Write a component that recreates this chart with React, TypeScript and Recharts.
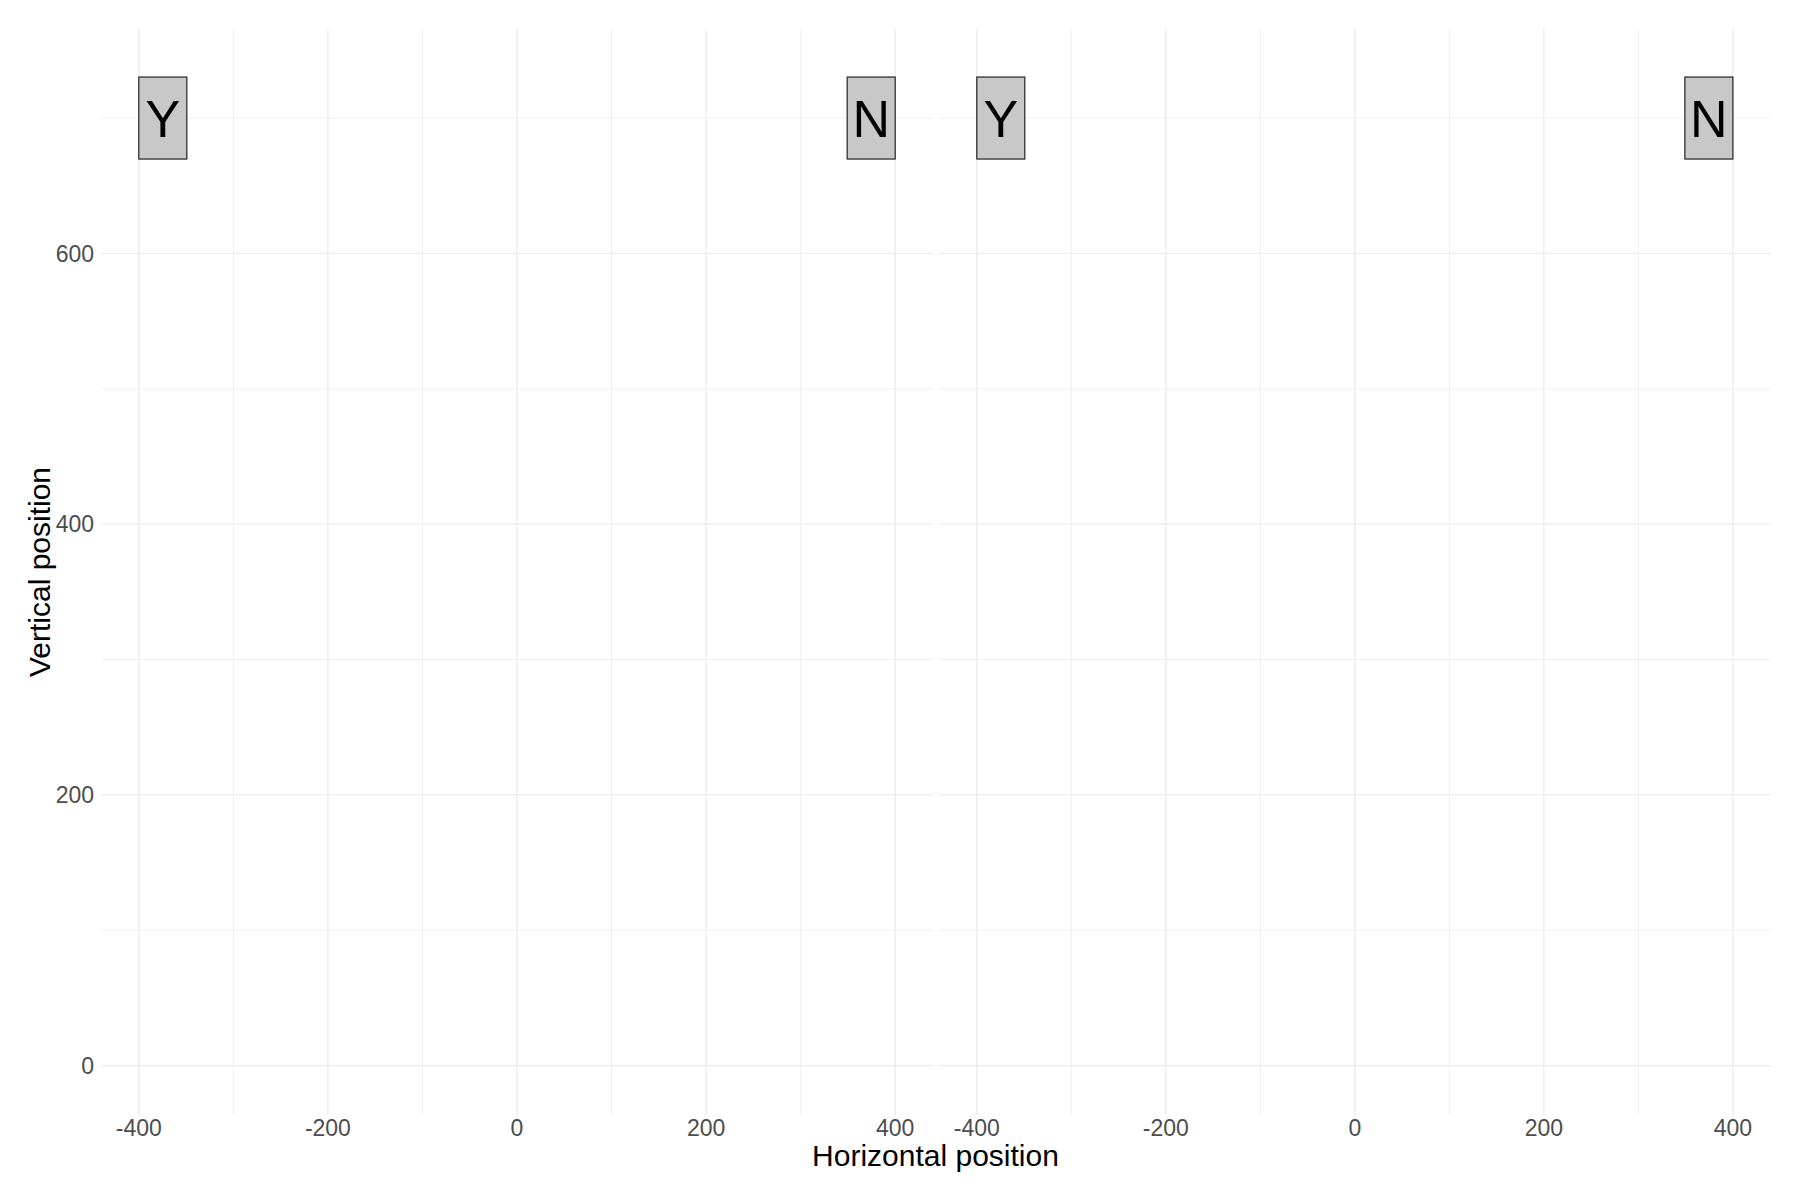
import React from 'react';
import { ScatterChart, Scatter, XAxis, YAxis, CartesianGrid } from 'recharts';

// axis ticks and grid positions
const majorX = [-400, -200, 0, 200, 400];
const minorX = [-300, -100, 100, 300];
const majorY = [0, 200, 400, 600];
const minorY = [100, 300, 500, 700];

// the two labels drawn in each panel
const labelText = ['Y', 'N'];
const labelX = [-400, 400];
const labelY = [700, 700];
const labelHjust = [0, 1];

const panels = ['left', 'right'];

const FONT = '"Liberation Sans", Arial, Helvetica, sans-serif';
const X_DOMAIN: [number, number] = [-440, 440];
const Y_DOMAIN: [number, number] = [-36.5, 766];

const labelData = labelText.map((t, i) => ({
  x: labelX[i],
  y: labelY[i],
  text: t,
  hjust: labelHjust[i],
}));

const BOX_W = 48;
const BOX_H = 82;

const LabelShape = (props: any) => {
  const { cx, cy, payload } = props;
  if (cx == null || cy == null) return null;
  const left = payload.hjust === 1 ? cx - BOX_W : cx;
  return (
    <g>
      <rect
        x={left}
        y={cy - BOX_H / 2}
        width={BOX_W}
        height={BOX_H}
        fill="#c8c8c8"
        stroke="#222"
        strokeWidth={1.2}
      />
      <text
        x={left + BOX_W / 2}
        y={cy + 19}
        textAnchor="middle"
        fontSize={52}
        fontFamily={FONT}
        fill="#000"
      >
        {payload.text}
      </text>
    </g>
  );
};

const Panel: React.FC<{ side: string }> = ({ side }) => {
  const isLeft = side === 'left';
  const width = isLeft ? 936 : 864;
  const margin = isLeft
    ? { top: 28.7, right: 3, bottom: 0, left: 0 }
    : { top: 28.7, right: 29.3, bottom: 0, left: 3 };

  return (
    <div style={{ position: 'absolute', top: 0, left: isLeft ? 0 : 936 }}>
      <ScatterChart width={width} height={1200} margin={margin}>
        <CartesianGrid
          verticalValues={minorX}
          horizontalValues={minorY}
          stroke="#efefef"
          strokeWidth={1}
          syncWithTicks
        />
        <CartesianGrid
          verticalValues={majorX}
          horizontalValues={majorY}
          stroke="#ebebeb"
          strokeWidth={1.3}
          syncWithTicks
        />
        <XAxis
          type="number"
          dataKey="x"
          domain={X_DOMAIN}
          ticks={majorX}
          interval={0}
          allowDataOverflow
          axisLine={false}
          tickLine={false}
          tickSize={0}
          tickMargin={5}
          height={85}
          tick={{ fill: '#4d4d4d', fontSize: 23, fontFamily: FONT }}
        />
        <YAxis
          type="number"
          dataKey="y"
          domain={Y_DOMAIN}
          ticks={majorY}
          interval={0}
          allowDataOverflow
          hide={!isLeft}
          axisLine={false}
          tickLine={false}
          tickSize={0}
          tickMargin={7}
          width={101}
          tick={{ fill: '#4d4d4d', fontSize: 23, fontFamily: FONT }}
        />
        <Scatter data={labelData} shape={LabelShape} isAnimationActive={false} />
      </ScatterChart>
    </div>
  );
};

export default function App() {
  return (
    <div
      style={{
        position: 'absolute',
        top: 0,
        left: 0,
        width: 1800,
        height: 1200,
        background: '#fff',
        fontFamily: FONT,
      }}
    >
      {panels.map((p) => (
        <Panel key={p} side={p} />
      ))}
      <svg
        width={1800}
        height={1200}
        style={{ position: 'absolute', top: 0, left: 0, pointerEvents: 'none' }}
      >
        <text x={935.5} y={1166} textAnchor="middle" fontSize={30} fontFamily={FONT} fill="#000">
          Horizontal position
        </text>
        <text
          transform="translate(50,572) rotate(-90)"
          textAnchor="middle"
          fontSize={30}
          fontFamily={FONT}
          fill="#000"
        >
          Vertical position
        </text>
      </svg>
    </div>
  );
}
